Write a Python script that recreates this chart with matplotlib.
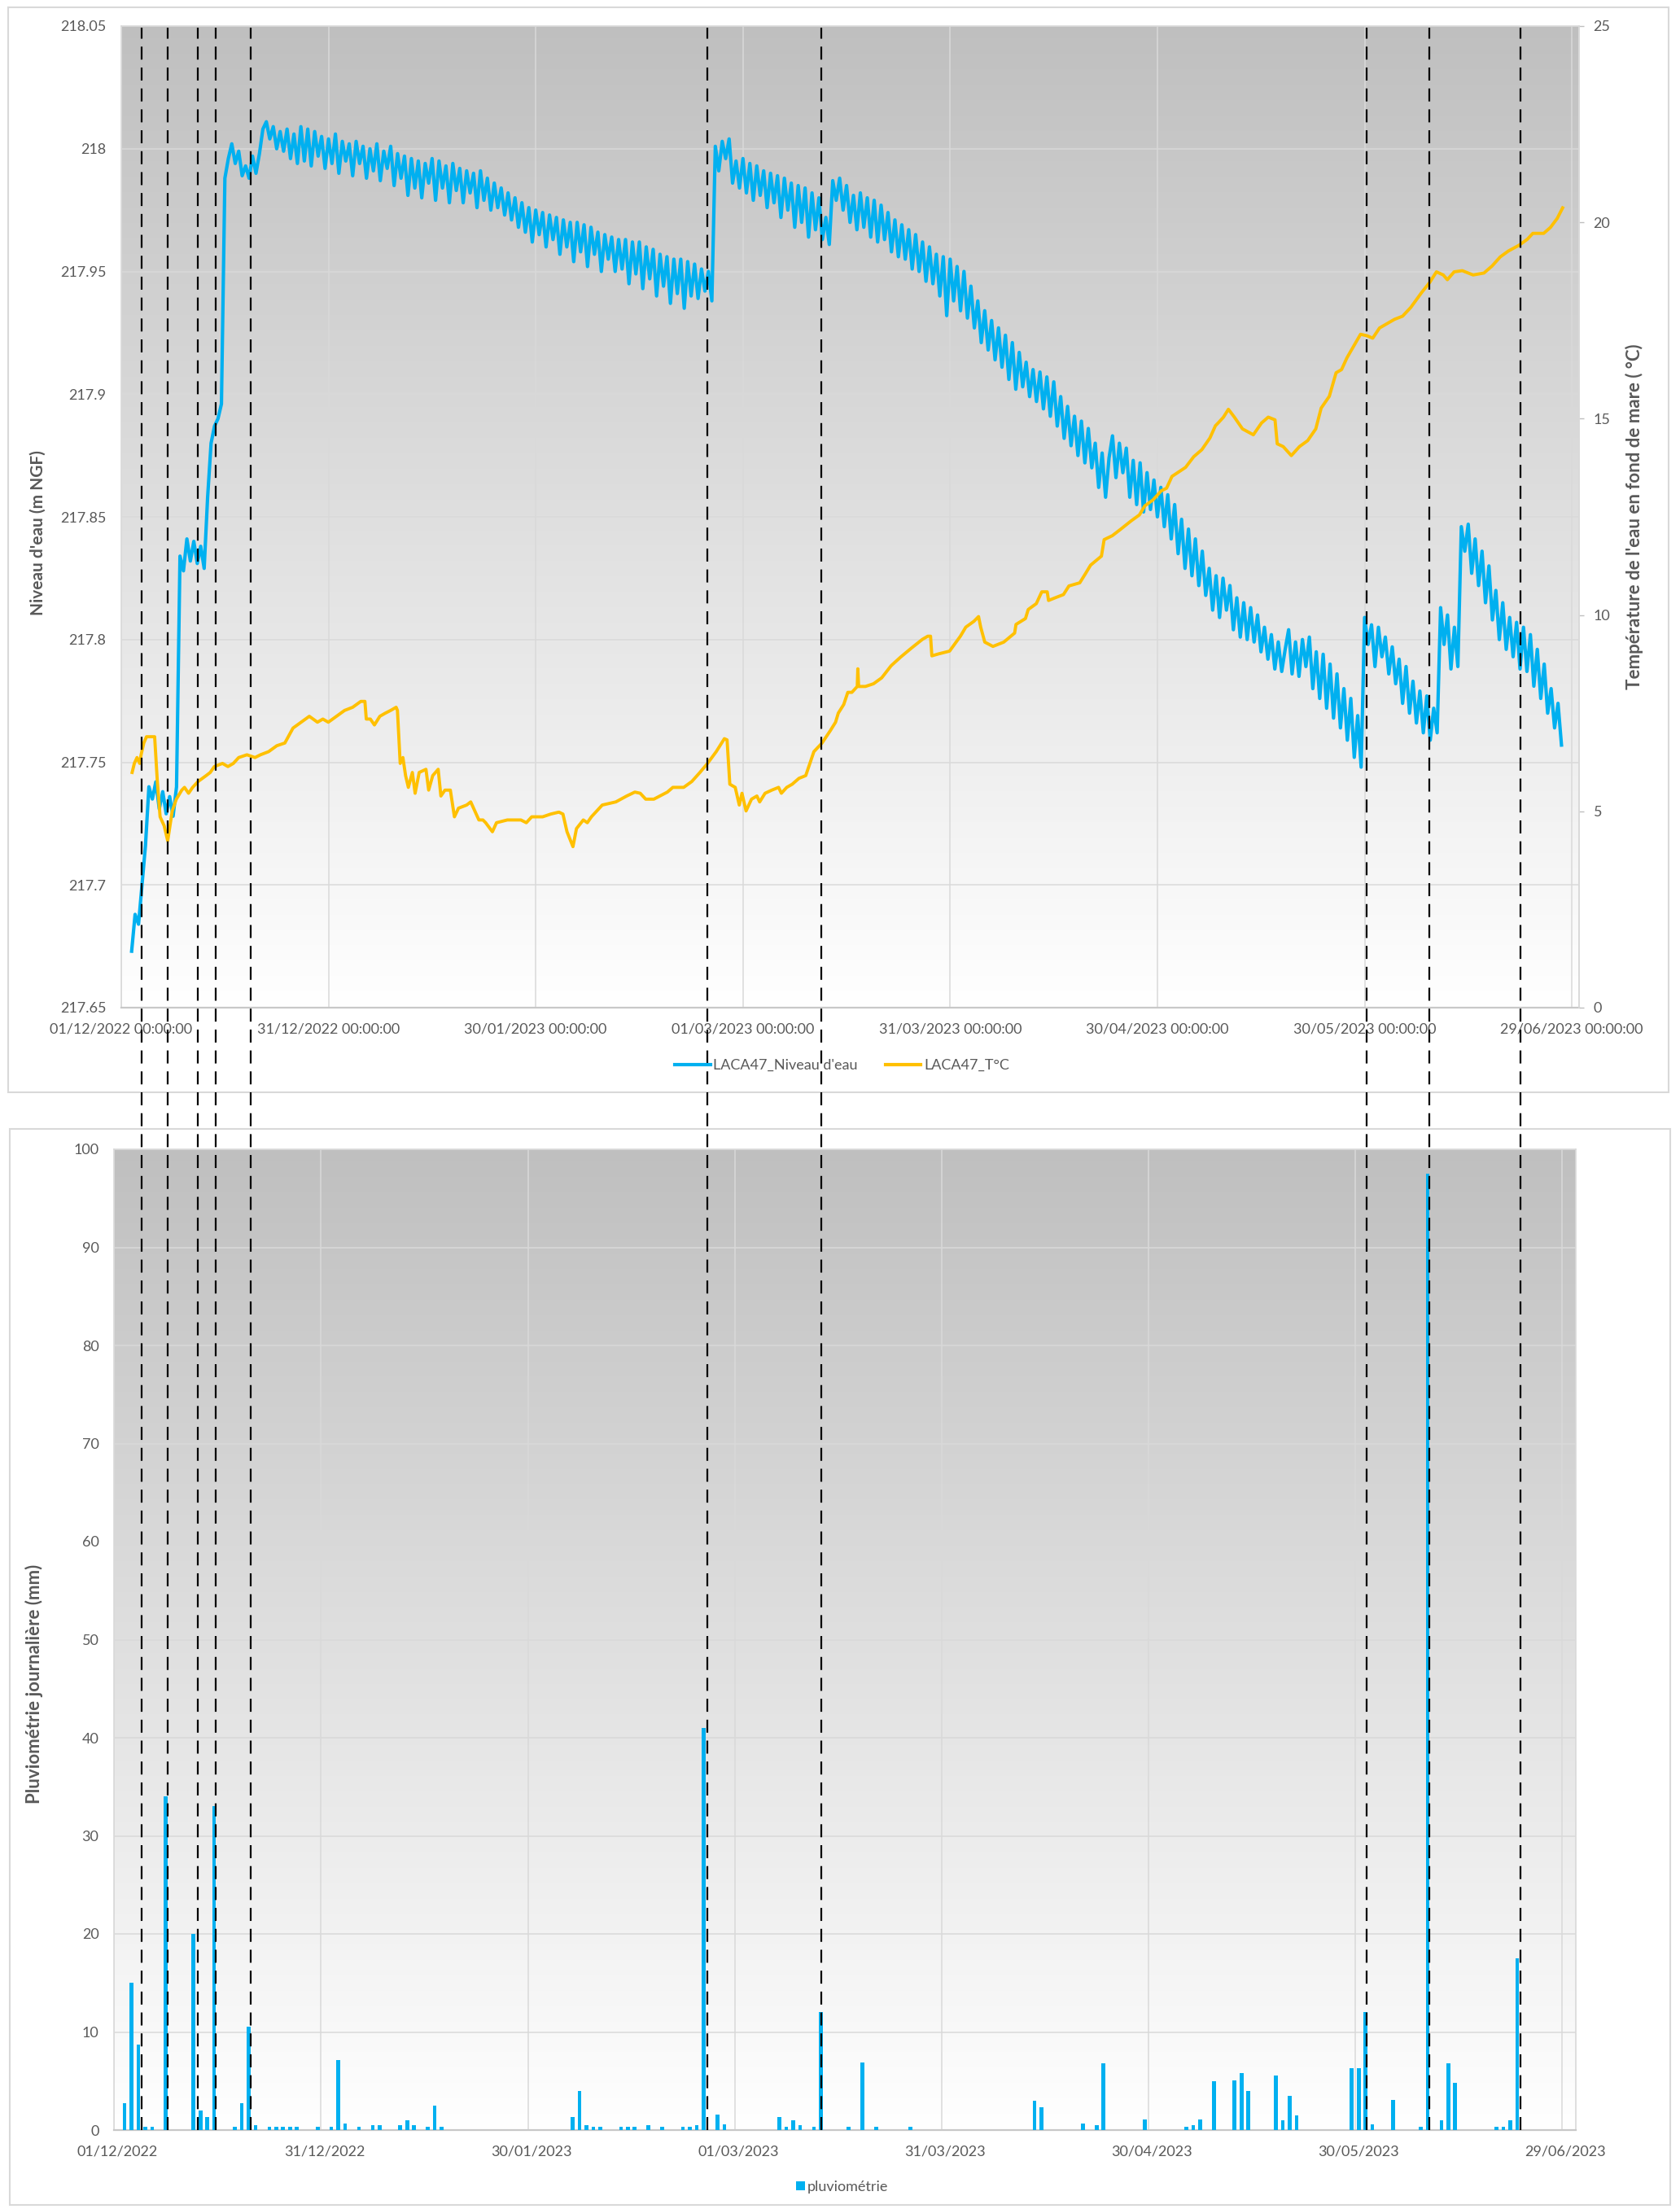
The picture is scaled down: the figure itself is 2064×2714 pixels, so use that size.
import numpy as np
import matplotlib
matplotlib.use("Agg")
import matplotlib.pyplot as plt
import matplotlib.dates as mdates
import matplotlib.transforms as mtransforms
from matplotlib import font_manager
from matplotlib.lines import Line2D
from matplotlib.patches import Rectangle, Patch
from matplotlib.ticker import FixedLocator, FuncFormatter
from datetime import datetime

installed = {f.name for f in font_manager.fontManager.ttflist}
base_font = "Lato" if "Lato" in installed else "DejaVu Sans"
plt.rcParams["font.family"] = [base_font, "DejaVu Sans"]
plt.rcParams["lines.scale_dashes"] = False

GREY_TXT = "#595959"
GRID = "#d9d9d9"
BLUE = "#00B0F0"
GOLD = "#FFC000"

DEBUT = datetime(2022, 12, 1)
T0 = mdates.date2num(DEBUT)

# ---------------------------------------------------------------------------
# Water level LACA47: one reading every 12 h starting 02/12/2022 12:00,
# stored in mm above 217 m NGF
# ---------------------------------------------------------------------------
NIVEAU_PREMIER_JOUR = 1.5
NIVEAU_PAS_JOUR = 0.5
niveau_mm = [
    673, 688, 684, 700, 716, 740, 735, 742, 731, 738,
    729, 736, 728, 740, 834, 828, 841, 832, 840, 831,
    838, 829, 858, 880, 887, 890, 896, 988, 996, 1002,
    994, 999, 989, 993, 988, 997, 990, 998, 1008, 1011,
    1004, 1009, 1000, 1007, 999, 1008, 996, 1006, 994, 1009,
    995, 1008, 993, 1007, 997, 1005, 992, 1004, 994, 1006,
    990, 1003, 995, 1002, 989, 1003, 994, 1001, 988, 1000,
    991, 1002, 987, 999, 992, 1001, 985, 998, 988, 997,
    981, 996, 984, 995, 980, 994, 986, 996, 979, 995,
    984, 993, 978, 994, 983, 992, 978, 991, 982, 990,
    976, 991, 979, 988, 975, 986, 976, 984, 973, 982,
    971, 980, 968, 978, 966, 976, 962, 975, 965, 974,
    960, 973, 963, 972, 957, 971, 960, 970, 954, 970,
    958, 969, 952, 968, 957, 966, 950, 965, 955, 964,
    950, 963, 951, 963, 945, 962, 949, 962, 943, 960,
    947, 959, 940, 957, 944, 956, 937, 955, 941, 955,
    935, 954, 940, 953, 939, 951, 942, 950, 938, 1001,
    991, 1003, 996, 1004, 986, 995, 984, 996, 982, 994,
    979, 993, 981, 991, 976, 990, 978, 989, 972, 988,
    975, 986, 968, 985, 970, 984, 964, 982, 967, 980,
    963, 972, 961, 987, 979, 988, 975, 985, 970, 981,
    967, 982, 968, 980, 964, 979, 962, 977, 963, 974,
    958, 971, 956, 969, 955, 967, 951, 965, 950, 962,
    946, 960, 945, 957, 940, 956, 932, 955, 938, 952,
    934, 950, 931, 944, 927, 938, 921, 934, 918, 930,
    914, 927, 911, 924, 906, 921, 902, 917, 903, 913,
    899, 910, 897, 909, 894, 907, 891, 905, 887, 899,
    882, 895, 879, 891, 875, 889, 872, 886, 870, 880,
    862, 876, 858, 874, 883, 866, 880, 868, 878, 858,
    873, 855, 872, 852, 868, 853, 865, 850, 862, 846,
    859, 841, 855, 835, 849, 829, 845, 826, 841, 822,
    836, 818, 829, 812, 826, 809, 825, 812, 822, 804,
    817, 801, 815, 800, 813, 799, 810, 795, 805, 792,
    802, 788, 799, 787, 796, 804, 786, 799, 785, 800,
    789, 801, 780, 795, 776, 794, 772, 790, 768, 786,
    764, 780, 759, 776, 752, 769, 748, 809, 798, 806,
    789, 805, 793, 801, 786, 797, 782, 792, 774, 789,
    770, 783, 766, 779, 762, 777, 759, 772, 762, 813,
    798, 810, 788, 805, 789, 846, 836, 847, 827, 841,
    822, 836, 815, 830, 808, 820, 800, 815, 796, 809,
    793, 807, 788, 805, 787, 802, 781, 796, 776, 790,
    770, 780, 764, 774, 757,
]

# Pond-bottom water temperature (days after 01/12/2022, degC)
temp_jour = [
    1.57, 1.89, 2.28, 2.67, 2.87, 3.26, 3.65, 4.24, 4.83, 5.22,
    5.62, 6.21, 6.72, 6.99, 7.38, 7.97, 8.76, 9.15, 9.74, 10.33,
    11.12, 12.29, 12.88, 13.47, 14.65, 15.44, 16.22, 17.0, 18.19, 19.36,
    20.15, 21.33, 22.51, 23.68, 24.86, 26.04, 27.22, 28.4, 29.18, 29.97,
    31.15, 32.33, 33.5, 34.68, 35.27, 35.47, 36.06, 36.65, 37.43, 38.22,
    39.0, 39.79, 39.98, 40.38, 40.77, 41.16, 41.56, 42.14, 42.54, 43.13,
    44.11, 44.5, 45.09, 45.88, 46.27, 46.86, 47.64, 48.23, 48.82, 50.0,
    50.59, 51.18, 51.77, 52.36, 52.75, 53.73, 54.32, 55.89, 57.85, 58.64,
    59.42, 61.0, 62.17, 63.35, 63.94, 64.53, 65.39, 65.9, 66.89, 67.47,
    68.06, 69.63, 71.6, 73.17, 74.35, 75.13, 75.92, 77.1, 79.06, 79.85,
    81.42, 82.6, 83.77, 84.87, 86.13, 87.31, 87.7, 88.1, 88.88, 89.47,
    89.86, 90.45, 91.24, 92.02, 92.42, 93.2, 94.18, 95.16, 95.56, 96.34,
    97.13, 98.11, 99.09, 100.27, 101.45, 102.63, 103.41, 103.8, 104.59, 105.18,
    105.77, 106.55, 106.63, 106.75, 107.73, 108.91, 110.09, 111.46, 112.84, 114.41,
    115.98, 116.76, 117.16, 117.35, 118.33, 119.91, 121.48, 122.26, 123.44, 124.11,
    124.42, 125.01, 126.19, 127.76, 129.33, 129.53, 130.9, 131.3, 132.47, 133.26,
    134.05, 134.24, 135.22, 136.4, 137.19, 138.76, 139.54, 140.33, 141.9, 142.29,
    143.47, 144.65, 146.22, 147.4, 148.18, 149.36, 150.54, 151.33, 152.11, 154.08,
    155.25, 156.43, 157.61, 158.4, 158.79, 159.57, 160.28, 161.14, 162.32, 163.89,
    165.07, 166.05, 167.03, 167.35, 168.21, 169.39, 170.57, 171.75, 172.93, 173.71,
    174.89, 175.87, 176.66, 177.44, 178.42, 179.41, 180.39, 181.17, 182.16, 183.14,
    184.32, 185.49, 186.67, 188.24, 189.42, 190.4, 191.39, 191.98, 192.96, 194.14,
    195.71, 197.28, 198.46, 199.63, 200.81, 202.38, 203.56, 204.35, 205.92, 206.9,
    207.88, 208.67,
]
temp_c = [
    5.99, 6.22, 6.37, 6.22, 6.44, 6.74, 6.90, 6.90, 6.90, 5.76,
    4.86, 4.63, 4.25, 4.56, 5.01, 5.31, 5.54, 5.61, 5.46, 5.61,
    5.76, 5.91, 5.99, 6.14, 6.22, 6.14, 6.22, 6.37, 6.44, 6.37,
    6.44, 6.52, 6.67, 6.74, 7.12, 7.27, 7.42, 7.27, 7.35, 7.27,
    7.42, 7.57, 7.65, 7.80, 7.80, 7.35, 7.35, 7.20, 7.42, 7.50,
    7.57, 7.65, 7.57, 6.22, 6.37, 5.91, 5.61, 5.99, 5.46, 5.99,
    6.07, 5.54, 5.91, 6.07, 5.39, 5.54, 5.54, 4.86, 5.08, 5.16,
    5.24, 5.01, 4.78, 4.78, 4.71, 4.48, 4.71, 4.78, 4.78, 4.71,
    4.86, 4.86, 4.93, 4.98, 4.93, 4.48, 4.10, 4.56, 4.78, 4.71,
    4.86, 5.16, 5.24, 5.39, 5.49, 5.46, 5.31, 5.31, 5.49, 5.61,
    5.61, 5.76, 5.99, 6.22, 6.52, 6.85, 6.82, 5.69, 5.61, 5.16,
    5.46, 5.01, 5.31, 5.39, 5.24, 5.46, 5.54, 5.61, 5.46, 5.61,
    5.69, 5.84, 5.91, 6.52, 6.74, 7.05, 7.27, 7.50, 7.72, 8.03,
    8.03, 8.18, 8.63, 8.18, 8.18, 8.25, 8.40, 8.71, 8.93, 9.16,
    9.38, 9.46, 9.46, 8.96, 9.01, 9.08, 9.46, 9.69, 9.84, 9.96,
    9.69, 9.31, 9.20, 9.31, 9.54, 9.76, 9.91, 10.14, 10.29, 10.59,
    10.59, 10.37, 10.44, 10.52, 10.74, 10.82, 11.04, 11.27, 11.50, 11.92,
    12.02, 12.18, 12.40, 12.55, 12.78, 12.93, 13.16, 13.23, 13.53, 13.76,
    14.03, 14.21, 14.51, 14.82, 14.89, 15.04, 15.24, 15.04, 14.74, 14.59,
    14.89, 15.04, 14.97, 14.36, 14.29, 14.06, 14.29, 14.44, 14.74, 15.27,
    15.57, 16.17, 16.25, 16.55, 16.85, 17.15, 17.11, 17.05, 17.31, 17.41,
    17.53, 17.61, 17.83, 18.21, 18.47, 18.74, 18.66, 18.54, 18.74, 18.77,
    18.66, 18.71, 18.89, 19.12, 19.27, 19.42, 19.57, 19.72, 19.72, 19.87,
    20.10, 20.37,
]

# Daily rainfall (days after 01/12/2022, mm)
pluie_jour = [
    1, 2, 3, 4, 5, 7, 11, 12, 13, 14, 17, 18, 19, 20, 22, 23, 24, 25, 26, 29,
    31, 32, 33, 35, 37, 38, 41, 42, 43, 45, 46, 47, 66, 67, 68, 69, 70, 73, 74, 75,
    77, 79, 82, 83, 84, 85, 87, 88, 96, 97, 98, 99, 101, 102, 106, 108, 110, 115, 133, 134,
    140, 142, 143, 149, 155, 156, 157, 159, 162, 163, 164, 168, 169, 170, 171, 179, 180, 181, 182, 185,
    189, 190, 192, 193, 194, 200, 201, 202, 203,
]
pluie_mm = [
    2.7, 15.0, 8.7, 0.3, 0.3, 34.0, 20.0, 2.0, 1.3, 33.0, 0.3, 2.7, 10.5, 0.5, 0.3, 0.3, 0.3, 0.3, 0.3, 0.3,
    0.3, 7.1, 0.7, 0.3, 0.5, 0.5, 0.5, 1.0, 0.5, 0.3, 2.5, 0.3, 1.3, 4.0, 0.5, 0.3, 0.3, 0.3, 0.3, 0.3,
    0.5, 0.3, 0.3, 0.3, 0.5, 41.0, 1.6, 0.6, 1.3, 0.3, 1.0, 0.5, 0.3, 12.0, 0.3, 6.9, 0.3, 0.3, 3.0, 2.3,
    0.7, 0.5, 6.8, 1.1, 0.3, 0.5, 1.1, 5.0, 5.1, 5.8, 4.0, 5.6, 1.0, 3.5, 1.5, 6.3, 6.3, 12.0, 0.6, 3.1,
    0.3, 97.5, 1.0, 6.8, 4.8, 0.3, 0.3, 1.0, 17.5,
]

# Rain events marked across both panels
evenements = [
    datetime(2022, 12, 4, 10, 30), datetime(2022, 12, 8, 6, 0),
    datetime(2022, 12, 12, 14, 0), datetime(2022, 12, 15, 5, 15),
    datetime(2022, 12, 20, 6, 15), datetime(2023, 2, 24, 13, 0),
    datetime(2023, 3, 13, 2, 30), datetime(2023, 5, 31, 5, 0),
    datetime(2023, 6, 9, 7, 0), datetime(2023, 6, 22, 12, 0),
]

dates_axe = [
    datetime(2022, 12, 1), datetime(2022, 12, 31), datetime(2023, 1, 30),
    datetime(2023, 3, 1), datetime(2023, 3, 31), datetime(2023, 4, 30),
    datetime(2023, 5, 30), datetime(2023, 6, 29),
]
niveau_ticks = [217.65, 217.7, 217.75, 217.8, 217.85, 217.9, 217.95, 218.0, 218.05]
temp_ticks = [0, 5, 10, 15, 20, 25]
pluie_ticks = [0, 10, 20, 30, 40, 50, 60, 70, 80, 90, 100]

# ---------------------------------------------------------------------------
W, H = 2064, 2714
fig = plt.figure(figsize=(W / 100, H / 100), dpi=100)
fig.patch.set_facecolor("white")


def fx(px):
    return px / W


def fy(py):
    return 1 - py / H


def fond_degrade(ax):
    g = np.linspace(0.0, 1.0, 512)[:, None]
    shade = 0.75 + 0.25 * g
    img = np.dstack([shade, shade, shade])
    ax.imshow(img, extent=[0, 1, 0, 1], transform=ax.transAxes,
              aspect="auto", zorder=-5, interpolation="bilinear")


def styliser_spines(ax):
    for s in ax.spines.values():
        s.set_color(GRID)
        s.set_linewidth(1.2)
    ax.spines["bottom"].set_color("#c8c8c8")
    ax.spines["bottom"].set_linewidth(1.6)


# chart frames
for (x0, y0, x1, y1) in [(10, 9, 2050, 1342), (12, 1387, 2052, 2709)]:
    fig.add_artist(Rectangle((fx(x0), fy(y1)), fx(x1) - fx(x0), fy(y0) - fy(y1),
                             transform=fig.transFigure, fill=False,
                             ec="#d9d9d9", lw=1.5, zorder=0))

dates_num = [mdates.date2num(d) for d in dates_axe]

# ----------------------------- top panel ----------------------------------
ax1 = fig.add_axes([fx(149), fy(1238), fx(1939.6) - fx(149), fy(32) - fy(1238)])
fond_degrade(ax1)
ax1.set_axisbelow(True)

t_niv = T0 + NIVEAU_PREMIER_JOUR + NIVEAU_PAS_JOUR * np.arange(len(niveau_mm))
niv = 217.0 + np.array(niveau_mm) / 1000.0
ax1.plot(t_niv, niv, color=BLUE, lw=3.0, solid_joinstyle="round", zorder=3)

ax1.set_xlim(T0, T0 + 211)
ax1.set_ylim(217.65, 218.05)
ax1.set_yticks(niveau_ticks)
ax1.yaxis.set_major_formatter(FuncFormatter(lambda v, p: f"{round(v, 2):g}"))
ax1.set_xticks(dates_num)
ax1.xaxis.set_major_formatter(mdates.DateFormatter("%d/%m/%Y %H:%M:%S"))
ax1.tick_params(axis="y", length=0, pad=13.5, labelsize=13, labelcolor=GREY_TXT)
ax1.tick_params(axis="x", length=0, pad=13, labelsize=13, labelcolor=GREY_TXT)
ax1.grid(True, color=GRID, lw=1.1)
styliser_spines(ax1)

ax2 = ax1.twinx()
ax2.plot(T0 + np.array(temp_jour), temp_c, color=GOLD, lw=2.8, zorder=3)
ax2.set_ylim(0, 25)
ax2.set_yticks(temp_ticks)
ax2.tick_params(axis="y", length=4.5, width=1.0, color="#bfbfbf", pad=8.5,
                labelsize=13, labelcolor=GREY_TXT)
for s in ["left", "top", "bottom"]:
    ax2.spines[s].set_visible(False)
ax2.spines["right"].set_color(GRID)
ax2.spines["right"].set_linewidth(1.2)

fig.text(fx(47), fy(655), "Niveau d'eau (m NGF)", rotation=90, ha="center",
         va="center", fontsize=15, fontweight="bold", color=GREY_TXT)
fig.text(fx(2008), fy(635), "Température de l'eau en fond de mare ( °C)",
         rotation=90, ha="center", va="center", fontsize=16,
         fontweight="bold", color=GREY_TXT)

poignees = [Line2D([], [], color=BLUE, lw=3), Line2D([], [], color=GOLD, lw=3)]
fig.legend(poignees, ["LACA47_Niveau d'eau", "LACA47_T°C"], loc="center",
           bbox_to_anchor=(fx(1034.5), fy(1309)), ncol=2, frameon=False,
           fontsize=13, labelcolor=GREY_TXT, handlelength=2.4,
           handletextpad=0.2, columnspacing=1.9)

# ---------------------------- bottom panel --------------------------------
ax3 = fig.add_axes([fx(140.3), fy(2617), fx(1936) - fx(140.3), fy(1412) - fy(2617)])
fond_degrade(ax3)
ax3.set_axisbelow(True)
ax3.bar(T0 + np.array(pluie_jour), pluie_mm, width=0.55, color=BLUE, zorder=3)
ax3.set_xlim(T0 - 0.5, T0 + 211.5)
ax3.set_ylim(0, 100)
ax3.set_yticks(pluie_ticks)
ax3.set_xticks(dates_num)
ax3.xaxis.set_minor_locator(FixedLocator([d - 0.5 for d in dates_num]))
ax3.xaxis.set_major_formatter(mdates.DateFormatter("%d/%m/%Y"))
ax3.tick_params(axis="y", length=0, pad=13.5, labelsize=13, labelcolor=GREY_TXT)
ax3.tick_params(axis="x", which="both", length=0, pad=13.5, labelsize=13,
                labelcolor=GREY_TXT)
ax3.grid(True, axis="y", which="major", color=GRID, lw=1.1)
ax3.grid(True, axis="x", which="minor", color=GRID, lw=1.1)
styliser_spines(ax3)

fig.text(fx(41.5), fy(2069), "Pluviométrie journalière (mm)", rotation=90,
         ha="center", va="center", fontsize=16, fontweight="bold",
         color=GREY_TXT)
fig.legend([Patch(facecolor=BLUE)], ["pluviométrie"], loc="center",
           bbox_to_anchor=(fx(1034.5), fy(2687)), frameon=False, fontsize=13,
           labelcolor=GREY_TXT, handlelength=0.6, handleheight=0.6,
           handletextpad=0.15)

# ------------------------- event markers ----------------------------------
trans_ev = mtransforms.blended_transform_factory(ax3.transData, fig.transFigure)
for ev in evenements:
    xe = mdates.date2num(ev)
    fig.add_artist(Line2D([xe, xe], [fy(2617), fy(34)], transform=trans_ev,
                          color="black", lw=1.6, dashes=(11.5, 7.0), zorder=5))

fig.savefig("out.png", dpi=100)
